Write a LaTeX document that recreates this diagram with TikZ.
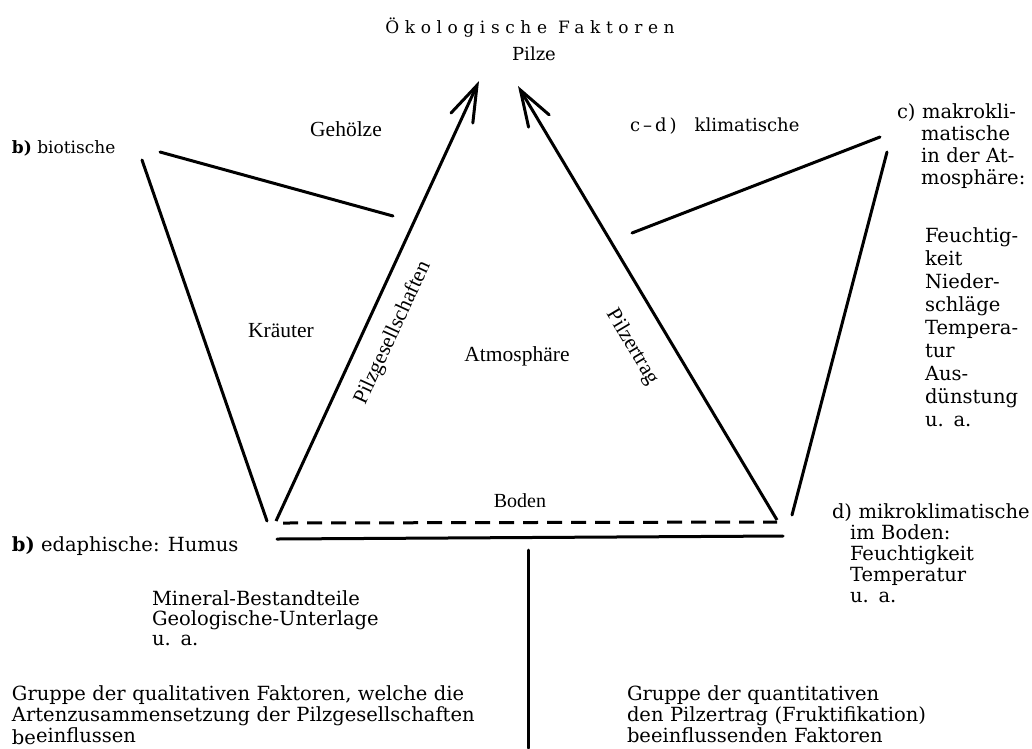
\documentclass[tikz,border=0pt]{standalone}
\usepackage{fontspec}
\setmainfont{DejaVu Serif}
\newfontfamily\labfont{Liberation Serif}
\newfontfamily\titlefont[LetterSpace=33]{DejaVu Serif}
\usetikzlibrary{arrows.meta}
\begin{document}
\begin{tikzpicture}[x=1pt,y=-1pt,
  every node/.style={inner sep=0pt, outer sep=0pt},
  txt/.style={font=\fontsize{19.5}{21}\selectfont, align=left, anchor=base west},
  lab/.style={font=\labfont\fontsize{21.5}{24}\selectfont},
  stroke/.style={line width=3pt, line cap=round},
  arr/.style={line width=3pt, -{Straight Barb[length=36pt,width=24pt,line cap=round]}},
  dash line/.style={line width=3pt, dash pattern=on 15pt off 9pt}
]
\fill[white] (0,0) rectangle (1032,748);
\useasboundingbox (0,0) rectangle (1032,748);

% title
\node[font=\titlefont\fontsize{17}{19}\selectfont, anchor=base] (title) at (530,33) {Ökologische Faktoren};
\node[font=\fontsize{18}{20}\selectfont, anchor=base] (pilze) at (534,60) {Pilze};

% left labels
\node[font=\fontsize{17}{20}\selectfont, anchor=base west] (biot) at (12,153) {\textbf{b)} biotische};
\node[lab, anchor=base] (geh) at (346,136) {Gehölze};
\node[lab, anchor=base] (kraut) at (281,337) {Kräuter};
\node[lab, anchor=base] (atmo) at (517,361) {Atmosphäre};
\node[font=\labfont\fontsize{20}{22}\selectfont, anchor=base] (boden) at (520,507) {Boden};
\node[lab, rotate=65.2] (pges) at (393,333) {Pilzgesellschaften};
\node[lab, rotate=-59.2] (pert) at (632,347) {Pilzertrag};

% right labels
\node[font=\fontsize{18}{20}\selectfont, anchor=base west] (klima) at (630,131) {c\,--\,d\,)\quad klimatische};
\node[txt, text width=140pt, font=\fontsize{19.5}{22}\selectfont] (makro) at (897,118)
  {c) makrokli-\\\hspace*{24pt}matische\\\hspace*{24pt}in der At-\\\hspace*{24pt}mosphäre:};
\node[txt, text width=110pt, font=\fontsize{19.5}{23}\selectfont] (feucht) at (925,242)
  {Feuchtig-\\keit\\Nieder-\\schläge\\Tempera-\\tur\\Aus-\\dünstung\\u. a.};
\node[txt, text width=200pt, font=\fontsize{19.5}{21}\selectfont] (mikro) at (832,518)
  {d) mikroklimatische\\\hspace*{18pt}im Boden:\\\hspace*{18pt}Feuchtigkeit\\\hspace*{18pt}Temperatur\\\hspace*{18pt}u. a.};

% lower left labels
\node[txt] (edaph) at (12,551) {\textbf{b)} edaphische: Humus};
\node[txt, text width=300pt, font=\fontsize{19.5}{20}\selectfont] (mineral) at (152,605)
  {Mineral-Bestandteile\\Geologische-Unterlage\\u. a.};
\node[txt, text width=500pt] (qual) at (12,700)
  {Gruppe der qualitativen Faktoren, welche die\\Artenzusammensetzung der Pilzgesellschaften\\\raisebox{-2pt}{be}einflussen};
\node[txt, text width=380pt] (quant) at (627,700)
  {Gruppe der quantitativen\\den Pilzertrag (Fruktifikation)\\beeinflussenden Faktoren};

% coordinates
\coordinate (LVtop) at (142,160);
\coordinate (LVbot) at (267,521);
\coordinate (Gs) at (160,152);
\coordinate (Ge) at (393,216);
\coordinate (LAbot) at (276,521);
\coordinate (LAtip) at (479,81);
\coordinate (RAbot) at (777,520);
\coordinate (RAtip) at (518,86);
\coordinate (Ks) at (632,233);
\coordinate (Ke) at (880,137);
\coordinate (RVtop) at (887,152);
\coordinate (RVbot) at (792,515);
\coordinate (Ds) at (283,523);
\coordinate (De) at (777,522);
\coordinate (Ss) at (277,539);
\coordinate (Se) at (783,536);
\coordinate (Vt) at (528,550);
\coordinate (Vb) at (528,748);

% lines
\draw[stroke] (LVtop) -- (LVbot);
\draw[stroke] (Gs) -- (Ge);
\draw[arr] (LAbot) -- (LAtip);
\draw[arr] (RAbot) -- (RAtip);
\draw[stroke] (Ks) -- (Ke);
\draw[stroke] (RVtop) -- (RVbot);
\draw[dash line] (Ds) -- (De);
\draw[stroke] (Ss) -- (Se);
\draw[stroke] (Vt) -- (Vb);
\end{tikzpicture}
\end{document}
